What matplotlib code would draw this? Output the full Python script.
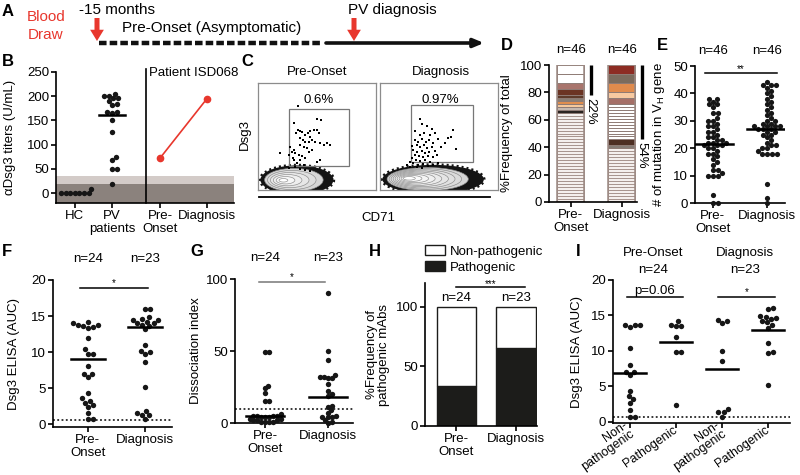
import numpy as np
import matplotlib
matplotlib.use('Agg')
import matplotlib.pyplot as plt
from matplotlib.patches import Ellipse, Rectangle

plt.rcParams['font.family'] = ['Liberation Sans', 'DejaVu Sans']
FS = 9.5
RED = '#e8372d'
DOT = '#161616'

# ---- data ----
# B: anti-Dsg3 titers
b_groups = ['HC', 'PV\npatients', 'Pre-\nOnset', 'Diagnosis']
b_hc = [0, 0, 0, 0, 0, 0, 8, 0]
b_pv = [205, 201, 201, 196, 196, 190, 184, 182, 168, 167, 166, 151, 127, 75, 69, 50, 50, 19]
b_pv_median = 161
b_patient = [72, 195]
b_cutoffs = [18.5, 35]

# C: gated Dsg3+ CD71 events (arbitrary units 0-100)
c_pct = ['0.6%', '0.97%']
c_pre_x = [33.6, 50.0, 53.4, 30.8, 33.6, 35.3, 32.5, 37.3, 40.1, 42.1, 43.8, 47.2, 50.0, 51.4,
           44.4, 35.9, 38.1, 40.1, 42.9, 45.8, 48.6, 52.8, 55.6, 58.5, 60.7, 35.9, 38.7, 41.5,
           30.2, 28.8, 31.6, 34.5, 37.3, 42.9, 45.8, 29.7, 30.8, 35.9, 40.1, 50.0, 33.1, 38.7,
           18.4, 26.0, 27.4, 52.8, 31.6, 35.9, 40.1, 44.4, 26.0]
c_pre_y = [78.1, 66.3, 65.6, 62.5, 56.3, 54.7, 53.1, 53.8, 51.6, 53.1, 54.7, 56.3, 56.3, 53.1,
           50.0, 48.4, 46.9, 45.3, 44.4, 46.9, 45.3, 43.8, 42.2, 43.8, 42.2, 42.2, 40.6, 39.1,
           37.5, 35.9, 34.4, 32.8, 31.9, 35.9, 37.5, 29.7, 28.1, 28.1, 29.7, 26.6, 25.0, 23.4,
           35.0, 32.8, 40.6, 28.1, 21.3, 19.4, 18.8, 18.1, 20.3]
c_dia_x = [40.1, 37.3, 33.9, 42.4, 46.6, 29.7, 32.5, 35.3, 39.0, 41.8, 45.2, 49.4, 31.1, 33.9,
           37.3, 40.1, 43.8, 28.2, 31.6, 35.3, 38.1, 41.8, 46.6, 29.7, 33.3, 36.7, 40.9, 45.2,
           26.8, 30.5, 33.9, 38.1, 42.4, 25.4, 28.2, 32.5, 36.7, 40.9, 45.2, 49.4, 22.6, 25.4,
           31.1, 35.3, 62.1, 60.0, 57.9, 55.0, 64.0, 52.0, 36.0, 44.0, 30.0, 48.0, 27.5, 34.0]
c_dia_y = [59.4, 53.1, 51.6, 51.6, 53.1, 46.9, 45.3, 47.5, 45.3, 46.9, 43.8, 47.5, 42.2, 40.6,
           42.2, 39.1, 40.6, 37.5, 35.9, 36.9, 34.4, 35.9, 36.9, 32.8, 31.9, 30.6, 31.9, 31.3,
           29.7, 28.1, 27.5, 28.1, 26.6, 26.6, 25.0, 23.4, 24.4, 22.5, 23.4, 25.0, 23.4, 21.3,
           21.3, 20.3, 56.3, 50.0, 48.4, 44.0, 38.0, 40.0, 62.0, 57.0, 55.0, 33.0, 41.0, 66.0]

# D: clonal composition (number of sequences per clone, bottom to top, of 46)
d_groups = ['Pre-\nOnset', 'Diagnosis']
d_total = 46
d_pre_counts = [1] * 30 + [1, 1, 1, 1, 1, 1, 2, 2, 3, 3]
d_pre_colors = ['single'] * 30 + ['#2b2421', '#c4b8b0', '#f6c99c', '#e08e4e', '#8a7f76',
                                   '#5e3b2b', '#6b3424', '#a9756d', '#ffffff', '#ffffff']
d_dia_counts = [1] * 18 + [1, 2] + [1] * 12 + [2, 2, 3, 3, 3]
d_dia_colors = ['single'] * 18 + ['#847b74', '#4d2f23'] + ['#ffffff'] * 12 + \
               ['#a56f67', '#f7c9a0', '#e08b4d', '#7b6b5d', '#8d2c23']
d_shared = [22, 54]

# E: number of VH mutations
e_pre = [38, 38, 37, 36, 36, 35, 33, 33, 31, 30, 30, 29, 28, 28, 27, 26, 26, 25, 24, 24,
         23, 23, 22, 22, 22, 21, 21, 21, 20, 20, 19, 18, 18, 17, 16, 15, 14, 12, 12, 11,
         10, 10, 10, 3, 0, 0]
e_dia = [44, 43, 43, 43, 42, 41, 40, 39, 38, 37, 36, 35, 34, 33, 32, 31, 30, 30, 29, 29,
         28, 28, 28, 28, 27, 27, 27, 26, 26, 25, 25, 24, 23, 22, 21, 21, 20, 20, 19, 18,
         18, 18, 18, 7, 2, 0]
e_medians = [21.5, 27]

# F: Dsg3 ELISA
f_pre = [14.2, 14, 13.7, 13.7, 13.6, 13.5, 13.4, 12, 10.4, 9.8, 9.8, 8, 7, 7, 6.6, 4.3,
         3.6, 3.2, 3, 2.6, 2.4, 1.6, 0.7, 0.7]
f_dia = [16, 16, 14.8, 14.6, 14.5, 14.4, 14.2, 14, 14, 13.8, 13.6, 13.2, 11, 10.2, 10,
         9.8, 8.6, 5.2, 1.8, 1.5, 1.3, 1.2, 0.7]
f_medians = [9.0, 13.5]
f_cutoff = 0.6

# G: dissociation index
g_pre = [49, 49, 26, 24, 21, 15, 15, 6, 5, 5, 5, 5, 4, 4, 4, 3, 3, 2, 2, 2, 1, 1, 1, 1]
g_dia = [90, 50, 44, 33, 32, 32, 31, 31, 27, 22, 20, 19, 12, 11, 9, 7, 5, 4, 4, 4, 2, 1, 0]
g_medians = [5, 18]
g_cutoff = 10

# H: % pathogenic mAbs
h_pathogenic = [33.3, 65.2]
h_n = ['n=24', 'n=23']

# I: ELISA split by pathogenicity
i_labels = ['Non-\npathogenic', 'Pathogenic', 'Non-\npathogenic', 'Pathogenic']
i_pre_non = [13.7, 13.6, 13.6, 13.4, 10.4, 8, 7, 7, 6.6, 4.3, 3.6, 3.2, 2.6, 1.6, 0.7, 0.7]
i_pre_path = [14.2, 13.7, 13.5, 13.5, 12, 9.8, 9.8, 2.4]
i_dia_non = [14.3, 14.2, 13.9, 10.0, 8.6, 1.8, 1.4, 1.4, 0.7]
i_dia_path = [16, 15.9, 14.9, 14.8, 14.6, 14.5, 14.2, 14, 13.7, 13.2, 11.1, 9.9, 9.7, 5.2]
i_medians = [6.9, 11.2, 7.4, 13.0]

# ---- helpers ----
W, H = 800, 475
fig = plt.figure(figsize=(W / 100, H / 100), dpi=100)


def px_axes(l, t, r, b):
    return fig.add_axes([l / W, 1 - b / H, (r - l) / W, (b - t) / H])


def style(ax):
    for s in ['top', 'right']:
        ax.spines[s].set_visible(False)
    for s in ['left', 'bottom']:
        ax.spines[s].set_linewidth(1.2)
    ax.tick_params(width=1.2, length=3.5, labelsize=FS, pad=1.5)


def ylab(ax, text, x_px):
    ax.set_ylabel(text, fontsize=FS, linespacing=1.0)
    bb = ax.get_position()
    ax.yaxis.set_label_coords((x_px / W - bb.x0) / bb.width, 0.5)


def swarm(ax, xc, vals, d=5.2):
    tr = ax.transData
    pts = tr.transform(np.column_stack([np.full(len(vals), xc), vals]))
    x0 = pts[0, 0]
    ys = pts[:, 1]
    placed = []
    xs = np.zeros(len(vals))
    for i in np.argsort(ys):
        y = ys[i]
        cands = [0.0]
        for px, py in placed:
            dy = abs(py - y)
            if dy < d:
                dx = np.sqrt(d * d - dy * dy)
                cands += [px - x0 + dx, px - x0 - dx]
        cands.sort(key=abs)
        for c in cands:
            if all((x0 + c - px) ** 2 + (y - py) ** 2 >= d * d - 1e-6 for px, py in placed):
                break
        placed.append((x0 + c, y))
        xs[i] = x0 + c
    return tr.inverted().transform(np.column_stack([xs, ys]))[:, 0]


def dots(ax, xc, vals, d=5.2, s=15):
    ax.scatter(swarm(ax, xc, vals, d), vals, s=s, color=DOT, lw=0, zorder=3, clip_on=False)


def median(ax, xc, m, half):
    ax.plot([xc - half, xc + half], [m, m], color='black', lw=1.8, zorder=4)


def sig(ax, x0, x1, y, label, color='black', dy=0.0, size=FS - 2.5):
    ax.plot([x0, x1], [y, y], color=color, lw=1.1, clip_on=False)
    ax.text((x0 + x1) / 2, y + dy, label, ha='center', va='bottom', fontsize=size,
            clip_on=False)


ov = fig.add_axes([0, 0, 1, 1], zorder=-1)
ov.set_xlim(0, W)
ov.set_ylim(H, 0)
ov.axis('off')

for letter, x, y in [('A', 8, 11), ('B', 8, 61), ('C', 247, 61), ('D', 507, 45),
                     ('E', 662, 45), ('F', 7, 252), ('G', 197, 252), ('H', 375, 252),
                     ('I', 578, 252)]:
    ov.text(x, y, letter, fontsize=12, fontweight='bold', ha='center', va='center')

# ---- A: timeline ----
ov.text(46, 17, 'Blood', color=RED, fontsize=11, ha='center', va='center')
ov.text(46, 35, 'Draw', color=RED, fontsize=11, ha='center', va='center')
ov.text(79, 10, '-15 months', fontsize=11, ha='left', va='center')
ov.text(122, 28, 'Pre-Onset (Asymptomatic)', fontsize=11, ha='left', va='center')
ov.text(348, 10, 'PV diagnosis', fontsize=11, ha='left', va='center')
ov.plot([99, 322], [43, 43], color='#111', lw=3.2, dashes=(1.7, 0.7), solid_capstyle='butt')
ov.annotate('', xy=(484, 43), xytext=(326, 43),
            arrowprops=dict(arrowstyle='-|>,head_width=0.25,head_length=0.6', color='#111',
                            lw=2.6, shrinkA=0, shrinkB=0))
for xa in [97, 354]:
    ov.annotate('', xy=(xa, 41), xytext=(xa, 18),
                arrowprops=dict(arrowstyle='simple,head_width=1.1,head_length=0.9,tail_width=0.4',
                                fc=RED, ec='none', mutation_scale=9, shrinkA=0, shrinkB=0))

# ---- B ----
axB = px_axes(56, 72, 234, 203)
style(axB)
b_pos = [1, 2, 3.3, 4.57]
axB.set_xlim(0.49, 5.3)
axB.set_ylim(-20.6, 250)
axB.axhspan(-20.6, b_cutoffs[0], color='#8b827d', lw=0, zorder=0)
axB.axhspan(b_cutoffs[0], b_cutoffs[1], color='#d3cbc8', lw=0, zorder=0)
axB.axvline(2.92, color='black', lw=1.2, ymax=1.02, clip_on=False)
dots(axB, b_pos[0], b_hc, d=4.6)
dots(axB, b_pos[1], b_pv, d=4.8)
median(axB, b_pos[1], b_pv_median, 0.35)
axB.plot(b_pos[2:], b_patient, color=RED, marker='o', ms=4.5, lw=1.2, zorder=3)
axB.set_yticks([0, 50, 100, 150, 200, 250])
axB.set_xticks(b_pos)
axB.set_xticklabels(b_groups, fontsize=FS, linespacing=1.1)
axB.text(3.0, 247, 'Patient ISD068', fontsize=FS, va='center', ha='left')
ylab(axB, 'αDsg3 titers (U/mL)', 16)


# ---- C ----
def population(ax, center, half, core, levels):
    cx, cy = center
    hx, hy = half
    kx, ky = core
    ax.add_patch(Ellipse(center, 2 * hx, 2 * hy, fc='#141414', ec='#141414', lw=2.4,
                         ls=(0, (0.6, 0.9))))
    for k, f in enumerate(np.linspace(0.8, 0.12, levels)):
        ex = kx + (cx - kx) * f
        ey = ky + (cy - ky) * f
        shade = 0.84 + 0.16 * k / (levels - 1)
        ax.add_patch(Ellipse((ex, ey), 2 * hx * f, 2 * hy * f, fc=str(shade),
                             ec='#8a8a8a', lw=0.45))


c_axes = [px_axes(258, 83, 376, 190), px_axes(380, 83, 498, 190)]
c_gates = [(26.6, 22.5, 77.4, 75.6), (26.3, 26.6, 78.5, 79.7)]
c_pops = [((33, 9.5), (31, 13.5), (20, 9), 6), ((45, 10), (43, 13.5), (22, 11), 9)]
c_events = [(c_pre_x, c_pre_y), (c_dia_x, c_dia_y)]
for ax, gate, pop, ev, pct in zip(c_axes, c_gates, c_pops, c_events, c_pct):
    ax.set_xlim(0, 100)
    ax.set_ylim(0, 100)
    ax.set_xticks([])
    ax.set_yticks([])
    for s in ax.spines.values():
        s.set_color('#8c8c8c')
        s.set_linewidth(0.9)
    population(ax, *pop)
    ax.add_patch(Rectangle((gate[0], gate[1]), gate[2] - gate[0], gate[3] - gate[1],
                           fill=False, ec='#777777', lw=0.9, zorder=4))
    ax.scatter(ev[0], ev[1], s=2.5, marker='s', color='black', lw=0, zorder=5)
    ax.text(51, 84, pct, ha='center', va='center', fontsize=FS)
ov.plot([259, 490], [197, 197], color='black', lw=1.3)
ov.text(317, 72, 'Pre-Onset', fontsize=FS, ha='center', va='center')
ov.text(441, 72, 'Diagnosis', fontsize=FS, ha='center', va='center')
ov.text(378, 218, 'CD71', fontsize=FS, ha='center', va='center')
ov.text(245, 135, 'Dsg3', fontsize=FS, ha='center', va='center', rotation=90)

# ---- D ----
axD = px_axes(549, 65, 637, 202)
style(axD)
axD.set_xlim(-0.43, 1.3)
axD.set_ylim(0, 100)
bw = 0.53
for x, counts, colors, shared in zip([0, 1], [d_pre_counts, d_dia_counts],
                                     [d_pre_colors, d_dia_colors], d_shared):
    bottom = 0
    for c, col in zip(counts, colors):
        h = c * 100 / d_total
        if col == 'single':
            fc, ec = '#f4efed', '#a7948e'
        else:
            fc, ec = col, '#8f7b75'
        axD.bar(x, h, bottom=bottom, width=bw, color=fc, edgecolor=ec, lw=0.7)
        bottom += h
    axD.bar(x, bottom, width=bw, fill=False, edgecolor='#9b8983', lw=1.1)
    axD.plot([x + 0.39, x + 0.39], [100, 100 - shared], color='black', lw=2.4,
             clip_on=False, solid_capstyle='butt')
    axD.text(x + 0.39, 100 - shared - 2, f'{shared}%', rotation=-90, ha='center', va='top',
             fontsize=FS, clip_on=False)
    axD.text(x, 111, 'n=46', ha='center', va='center', fontsize=FS, clip_on=False)
axD.set_yticks([0, 20, 40, 60, 80, 100])
axD.set_xticks([0, 1])
axD.set_xticklabels(d_groups, fontsize=FS, linespacing=1.1)
ylab(axD, '%Frequency of total', 513)

# ---- E ----
axE = px_axes(695, 66, 785, 203)
style(axE)
axE.set_xlim(-0.33, 1.33)
axE.set_ylim(0, 50)
for x, vals, m in zip([0, 1], [e_pre, e_dia], e_medians):
    dots(axE, x, vals, d=5.0, s=14)
    median(axE, x, m, 0.38)
    axE.text(x, 55.6, 'n=46', ha='center', va='center', fontsize=FS, clip_on=False)
sig(axE, -0.15, 1.19, 47.3, '**', dy=-0.3)
axE.set_yticks([0, 10, 20, 30, 40, 50])
axE.set_xticks([0, 1])
axE.set_xticklabels(['Pre-\nOnset', 'Diagnosis'], fontsize=FS, linespacing=1.1)
ylab(axE, '# of mutation in V$_\\mathregular{H}$ gene', 667)

# ---- F ----
axF = px_axes(53, 280, 172, 427)
style(axF)
axF.set_xlim(-0.61, 1.47)
axF.set_ylim(-0.4, 20)
axF.axhline(f_cutoff, color='black', lw=1.1, ls=(0, (1.2, 1.6)), zorder=1)
for x, vals, m, n in zip([0, 1], [f_pre, f_dia], f_medians, ['n=24', 'n=23']):
    dots(axF, x, vals)
    median(axF, x, m, 0.3)
    axF.text(x, 22.9, n, ha='center', va='center', fontsize=FS, clip_on=False)
sig(axF, -0.14, 1.05, 18.9, '*')
axF.set_yticks([0, 5, 10, 15, 20])
axF.set_xticks([0, 1])
axF.set_xticklabels(['Pre-\nOnset', 'Diagnosis'], fontsize=FS, linespacing=1.1)
ylab(axF, 'Dsg3 ELISA (AUC)', 20)

# ---- G ----
axG = px_axes(235, 279, 353, 423)
style(axG)
axG.set_xlim(-0.48, 1.4)
axG.set_ylim(0, 100)
axG.axhline(g_cutoff, color='black', lw=1.1, ls=(0, (1.2, 1.6)), zorder=1)
for x, vals, m, n in zip([0, 1], [g_pre, g_dia], g_medians, ['n=24', 'n=23']):
    dots(axG, x, vals, d=4.0)
    median(axG, x, m, 0.3)
    axG.text(x, 114.6, n, ha='center', va='center', fontsize=FS, clip_on=False)
sig(axG, -0.1, 0.95, 98, '*', color='#777777')
axG.set_yticks([0, 50, 100])
axG.set_xticks([0, 1])
axG.set_xticklabels(['Pre-\nOnset', 'Diagnosis'], fontsize=FS, linespacing=1.1)
ylab(axG, 'Dissociation index', 202)

# ---- H ----
axH = px_axes(425, 283, 537, 426)
style(axH)
axH.set_xlim(-0.53, 1.36)
axH.set_ylim(0, 120)
hb_w = 0.67
path_bars = axH.bar([0, 1], h_pathogenic, width=hb_w, color='#1c1c1a', edgecolor='#1c1c1a', lw=1)
non_bars = axH.bar([0, 1], [100 - p for p in h_pathogenic], bottom=h_pathogenic, width=hb_w,
                   color='white', edgecolor='#1c1c1a', lw=1)
for x, n in zip([0, 1], h_n):
    axH.text(x, 107.5, n, ha='center', va='center', fontsize=FS)
sig(axH, 0, 1.15, 116.8, '***', dy=-1.5)
axH.set_yticks([0, 50, 100])
axH.set_xticks([0, 1])
axH.set_xticklabels(['Pre-\nOnset', 'Diagnosis'], fontsize=FS, linespacing=1.1)
ylab(axH, '%Frequency of\npathogenic mAbs', 390)
axH.legend([non_bars[0], path_bars[0]], ['Non-pathogenic', 'Pathogenic'], loc='upper left',
           bbox_to_anchor=(425 / W, 1 - 245 / H), bbox_transform=fig.transFigure,
           frameon=False, handlelength=1.5, handleheight=0.8, handletextpad=0.4,
           borderaxespad=0, borderpad=0, labelspacing=0.25, fontsize=FS)

# ---- I ----
axI = px_axes(613, 280, 790, 423)
style(axI)
axI.set_xlim(-0.37, 3.48)
axI.set_ylim(-0.2, 20)
axI.axhline(f_cutoff, color='black', lw=1.1, ls=(0, (1.2, 1.6)), zorder=1)
for x, vals, m in zip([0, 1, 2, 3], [i_pre_non, i_pre_path, i_dia_non, i_dia_path], i_medians):
    dots(axI, x, vals)
    median(axI, x, m, 0.35)
sig(axI, -0.07, 1.15, 17.6, 'p=0.06', size=FS)
sig(axI, 1.91, 3.15, 17.6, '*')
for x, t, n in zip([0.5, 2.5], ['Pre-Onset', 'Diagnosis'], ['n=24', 'n=23']):
    axI.text(x, 23.8, t, ha='center', va='center', fontsize=FS, clip_on=False)
    axI.text(x, 21.4, n, ha='center', va='center', fontsize=FS, clip_on=False)
axI.set_yticks([0, 5, 10, 15, 20])
axI.set_xticks([0, 1, 2, 3])
axI.tick_params(axis='x', pad=0.5)
axI.set_xticklabels(i_labels, fontsize=FS - 0.5, rotation=35, ha='right', va='center',
                    rotation_mode='anchor', linespacing=0.95)

ylab(axI, 'Dsg3 ELISA (AUC)', 583)

fig.savefig('out.png', dpi=100)
